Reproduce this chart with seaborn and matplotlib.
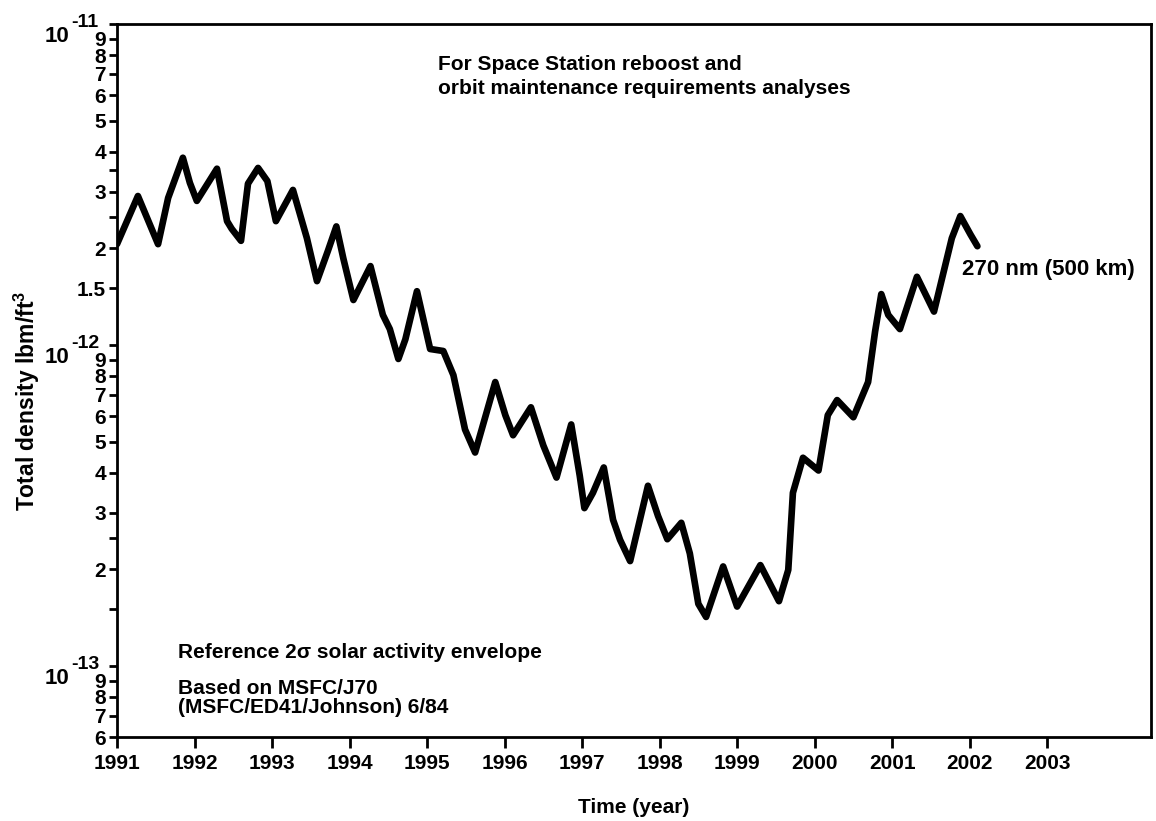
import matplotlib
matplotlib.use("Agg")
import matplotlib.pyplot as plt
from matplotlib.ticker import NullLocator
import numpy as np
import pandas as pd
import seaborn as sns

# Projected total atmospheric density at 270 nm (500 km), 2-sigma solar envelope
years = [
    1991.00, 1991.27, 1991.53, 1991.66, 1991.85, 1991.94, 1992.03, 1992.29,
    1992.42, 1992.48, 1992.60, 1992.69, 1992.82, 1992.94, 1993.05, 1993.27,
    1993.45, 1993.58, 1993.72, 1993.83, 1993.92, 1994.05, 1994.27, 1994.43,
    1994.52, 1994.63, 1994.72, 1994.87, 1995.04, 1995.21, 1995.34, 1995.49,
    1995.62, 1995.88, 1996.01, 1996.11, 1996.34, 1996.50, 1996.67, 1996.86,
    1996.97, 1997.03, 1997.14, 1997.28, 1997.40, 1997.49, 1997.62, 1997.85,
    1997.98, 1998.10, 1998.28, 1998.39, 1998.50, 1998.60, 1998.82, 1999.00,
    1999.30, 1999.54, 1999.66, 1999.72, 1999.85, 2000.05, 2000.17, 2000.29,
    2000.50, 2000.69, 2000.78, 2000.86, 2000.95, 2001.10, 2001.32, 2001.54,
    2001.77, 2001.88, 2002.01, 2002.10,
]
density = [
    2.06e-12, 2.91e-12, 2.06e-12, 2.87e-12, 3.83e-12, 3.20e-12, 2.81e-12, 3.54e-12,
    2.43e-12, 2.30e-12, 2.11e-12, 3.18e-12, 3.56e-12, 3.24e-12, 2.43e-12, 3.04e-12,
    2.15e-12, 1.58e-12, 1.96e-12, 2.34e-12, 1.86e-12, 1.38e-12, 1.76e-12, 1.24e-12,
    1.12e-12, 9.04e-13, 1.04e-12, 1.47e-12, 9.71e-13, 9.57e-13, 8.05e-13, 5.45e-13,
    4.62e-13, 7.66e-13, 6.04e-13, 5.23e-13, 6.39e-13, 4.86e-13, 3.86e-13, 5.65e-13,
    3.91e-13, 3.10e-13, 3.46e-13, 4.15e-13, 2.85e-13, 2.47e-13, 2.12e-13, 3.64e-13,
    2.93e-13, 2.48e-13, 2.79e-13, 2.24e-13, 1.56e-13, 1.42e-13, 2.04e-13, 1.53e-13,
    2.06e-13, 1.59e-13, 1.99e-13, 3.46e-13, 4.45e-13, 4.06e-13, 6.04e-13, 6.73e-13,
    5.95e-13, 7.66e-13, 1.10e-12, 1.44e-12, 1.24e-12, 1.12e-12, 1.63e-12, 1.27e-12,
    2.15e-12, 2.52e-12, 2.21e-12, 2.03e-12,
]

year_ticks = list(range(1991, 2004))
year_labels = [str(y) for y in year_ticks]

density_ticks = [
    6e-14, 7e-14, 8e-14, 9e-14,
    1e-13, 1.5e-13, 2e-13, 2.5e-13, 3e-13, 4e-13, 5e-13, 6e-13, 7e-13, 8e-13, 9e-13,
    1e-12, 1.5e-12, 2e-12, 2.5e-12, 3e-12, 3.5e-12, 4e-12, 5e-12, 6e-12, 7e-12, 8e-12, 9e-12,
    1e-11,
]
density_labels = [
    "6", "7", "8", "9",
    "", "", "2", "", "3", "4", "5", "6", "7", "8", "9",
    "", "1.5", "2", "", "3", "", "4", "5", "6", "7", "8", "9",
    "",
]
# Decade labels written as "10" with a raised exponent
decade_values = [1e-13, 1e-12, 1e-11]
decade_exponents = ["-13", "-12", "-11"]

df = pd.DataFrame({"year": years, "density": density})

sns.set_style("ticks")
plt.rcParams["font.family"] = ["Liberation Sans", "DejaVu Sans"]
plt.rcParams["font.weight"] = "bold"
plt.rcParams["mathtext.default"] = "regular"
plt.rcParams["text.color"] = "black"
plt.rcParams["axes.labelcolor"] = "black"
plt.rcParams["xtick.color"] = "black"
plt.rcParams["ytick.color"] = "black"

fig = plt.figure(figsize=(11.56, 8.21), dpi=100)
ax = fig.add_axes([0.1012, 0.1023, 0.8945, 0.8685])

sns.lineplot(data=df, x="year", y="density", ax=ax, color="black",
             linewidth=4.8, solid_joinstyle="round", solid_capstyle="round")

ax.set_yscale("log")
ax.set_xlim(1991, 2004.34)
ax.set_ylim(6e-14, 1e-11)

ax.set_xticks(year_ticks, year_labels)
ax.set_yticks(density_ticks, density_labels)
ax.yaxis.set_minor_locator(NullLocator())
ax.xaxis.set_minor_locator(NullLocator())

ax.tick_params(axis="x", direction="out", length=8, width=2, labelsize=15, pad=4)
ax.tick_params(axis="y", direction="out", length=6, width=2, labelsize=15, pad=2)
for lbl in ax.get_xticklabels() + ax.get_yticklabels():
    lbl.set_fontweight("bold")

for val, expo in zip(decade_values, decade_exponents):
    ax.annotate("10", xy=(0, val), xycoords=("axes fraction", "data"),
                xytext=(-48, -13), textcoords="offset pixels",
                ha="right", va="center", fontsize=16, fontweight="bold",
                annotation_clip=False)
    ax.annotate(expo, xy=(0, val), xycoords=("axes fraction", "data"),
                xytext=(-46, 1), textcoords="offset pixels",
                ha="left", va="center", fontsize=14, fontweight="bold",
                annotation_clip=False)

for side in ["left", "bottom", "top", "right"]:
    ax.spines[side].set_visible(True)
    ax.spines[side].set_linewidth(2)
    ax.spines[side].set_color("black")

ax.set_xlabel("Time (year)", fontsize=15, fontweight="bold", labelpad=18)
ax.set_ylabel(r"Total density lbm/ft$^3$", fontsize=16.5, fontweight="bold")
ax.yaxis.set_label_coords(-0.0725, 0.471)

ax.text(0.310, 0.926, "For Space Station reboost and\norbit maintenance requirements analyses",
        transform=ax.transAxes, fontsize=15, fontweight="bold", va="center", ha="left",
        linespacing=1.35)
ax.text(2001.90, 1.72e-12, "270 nm (500 km)", fontsize=16, fontweight="bold",
        va="center", ha="left")
ax.text(0.059, 0.118, "Reference 2σ solar activity envelope",
        transform=ax.transAxes, fontsize=15, fontweight="bold", va="center", ha="left")
ax.text(0.059, 0.0547, "Based on MSFC/J70\n(MSFC/ED41/Johnson) 6/84",
        transform=ax.transAxes, fontsize=15, fontweight="bold", va="center", ha="left",
        linespacing=1.05)

fig.savefig("out.png", dpi=100, facecolor="white")
